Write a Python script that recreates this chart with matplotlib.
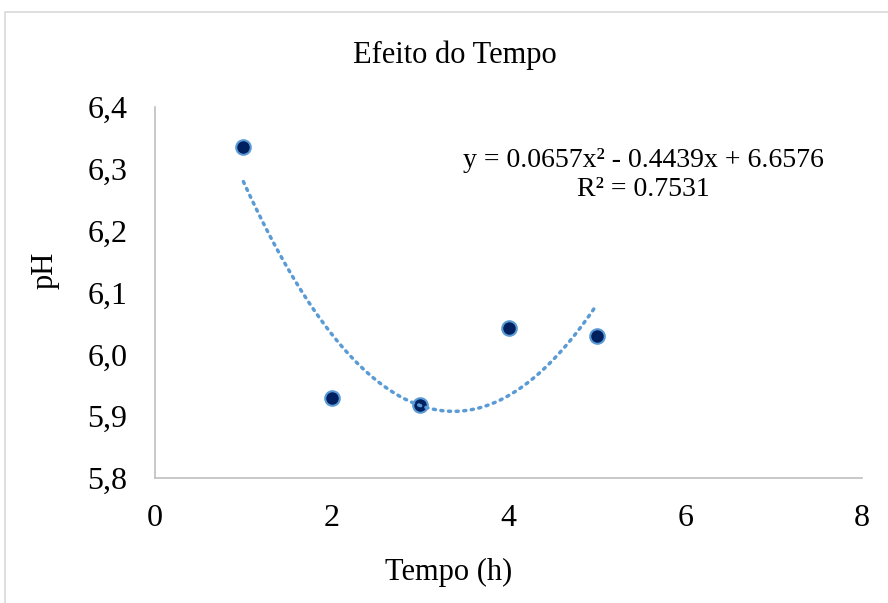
import numpy as np
import matplotlib
matplotlib.use("Agg")
import matplotlib.pyplot as plt
from matplotlib.patches import Rectangle

tempo = [1, 2, 3, 4, 5]
ph = [6.335, 5.929, 5.918, 6.043, 6.030]
coef = [0.0657, -0.4439, 6.6576]
r2 = 0.7531
xticks = [0, 2, 4, 6, 8]
yticks = [5.8, 5.9, 6.0, 6.1, 6.2, 6.3, 6.4]

plt.rcParams['font.family'] = ['Liberation Serif', 'DejaVu Serif']

fig = plt.figure(figsize=(8.88, 6.03), dpi=100)
fig.patches.append(Rectangle((5/888, -0.1), 1.2, 1 - 12/603 + 0.1, transform=fig.transFigure,
                             fill=False, edgecolor='#d9d9d9', linewidth=1.2))
ax = fig.add_axes([155/888, 1 - 478/603, (862 - 155)/888, (478 - 107)/603])

ax.scatter(tempo, ph, s=110, color='#002060', edgecolors='#5b9bd5', linewidths=1.5, zorder=3)
xs = np.linspace(min(tempo), max(tempo), 200)
ax.plot(xs, np.polyval(coef, xs), linestyle=(0, (0.6, 1.6)), color='#5b9bd5', linewidth=2.5,
        dash_capstyle='round', zorder=4)

ax.set_xlim(0, 8)
ax.set_ylim(5.8, 6.4)
ax.set_xticks(xticks)
ax.set_xticklabels([str(v) for v in xticks])
ax.set_yticks(yticks)
ax.set_yticklabels([f"{v:.1f}".replace('.', ',') for v in yticks])
ax.tick_params(length=0, labelsize=23, colors='#000000')
ax.tick_params(axis='y', pad=20)
ax.tick_params(axis='x', pad=19)
for s in ['top', 'right']:
    ax.spines[s].set_visible(False)
for s in ['left', 'bottom']:
    ax.spines[s].set_color('#bfbfbf')
    ax.spines[s].set_linewidth(1.2)

fig.text(455/888, 1 - 55/603, "Efeito do Tempo", ha='center', va='center', fontsize=22)
fig.text(449/888, 1 - 572/603, "Tempo (h)", ha='center', va='center', fontsize=22)
fig.text(45/888, 1 - 270/603, "pH", ha='center', va='center', fontsize=22, rotation=90)

eq = f"y = {coef[0]:.4f}x² - {abs(coef[1]):.4f}x + {coef[2]:.4f}\nR² = {r2:.4f}"
fig.text(643/888, 1 - 175/603, eq, ha='center', va='center', fontsize=20, multialignment='center',
         linespacing=1.2)

fig.savefig("out.png", dpi=100)
